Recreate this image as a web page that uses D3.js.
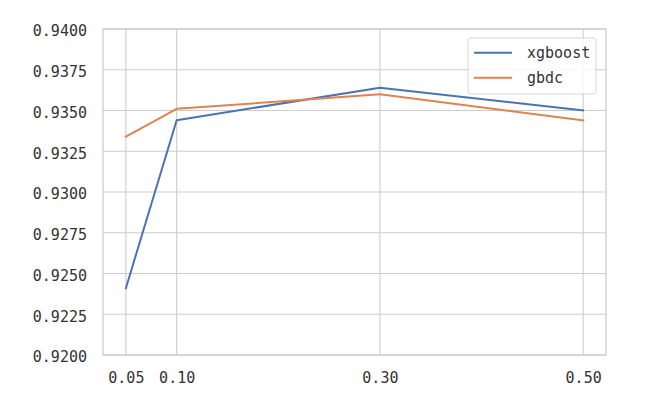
<!DOCTYPE html>
<html><head><meta charset="utf-8">
<script src="https://cdn.jsdelivr.net/npm/d3@7"></script>
<style>html,body{margin:0;padding:0;background:#fff;}</style>
</head><body>
<svg id="c" width="652" height="401"></svg>
<script>
const xValues = [0.05, 0.10, 0.30, 0.50];
const xgboost = [0.9241, 0.9344, 0.9364, 0.9350];
const gbdc = [0.9334, 0.9351, 0.9360, 0.9344];
const seriesNames = ["xgboost", "gbdc"];
const yTicks = [0.9200, 0.9225, 0.9250, 0.9275, 0.9300, 0.9325, 0.9350, 0.9375, 0.9400];
const xTickLabels = ["0.05", "0.10", "0.30", "0.50"];

const svg = d3.select("#c");
const L = 103, R = 606, T = 29, B = 355;
const x = d3.scaleLinear().domain([0.0275, 0.5225]).range([L, R]);
const y = d3.scaleLinear().domain([0.92, 0.94]).range([B, T]);
const font = "'DejaVu Sans Mono', monospace";
const fs = 15;
const grid = "#cccccc";
const txt = "#333333";

// grid
svg.append("g").selectAll("line").data(yTicks).join("line")
  .attr("x1", L).attr("x2", R).attr("y1", d => y(d)).attr("y2", d => y(d))
  .attr("stroke", grid).attr("stroke-width", 1.1);
svg.append("g").selectAll("line").data(xValues).join("line")
  .attr("y1", T).attr("y2", B).attr("x1", d => x(d)).attr("x2", d => x(d))
  .attr("stroke", grid).attr("stroke-width", 1.1);
// spines
svg.append("rect").attr("x", L).attr("y", T).attr("width", R - L).attr("height", B - T)
  .attr("fill", "none").attr("stroke", grid).attr("stroke-width", 1.3);

// axes labels
const yAxis = d3.axisLeft(y).tickValues(yTicks).tickFormat(d3.format(".4f")).tickSize(0).tickPadding(16);
const gy = svg.append("g").attr("transform", `translate(${L},0)`).call(yAxis);
gy.select(".domain").remove();
gy.selectAll("text").attr("font-family", font).attr("font-size", fs).attr("fill", txt).attr("dy", "0.45em");

const xAxis = d3.axisBottom(x).tickValues(xValues).tickFormat((d, i) => xTickLabels[i]).tickSize(0).tickPadding(17);
const gx = svg.append("g").attr("transform", `translate(0,${B})`).call(xAxis);
gx.select(".domain").remove();
gx.selectAll("text").attr("font-family", font).attr("font-size", fs).attr("fill", txt);

const colors = ["#4c72b0", "#dd8452"];
const line = d3.line().x((d, i) => x(xValues[i])).y(d => y(d));
[xgboost, gbdc].forEach((s, k) => {
  svg.append("path").datum(s).attr("d", line).attr("fill", "none")
    .attr("stroke", colors[k]).attr("stroke-width", 2).attr("stroke-linejoin", "round").attr("stroke-linecap", "square");
});

// legend
const lg = svg.append("g");
lg.append("rect").attr("x", 468).attr("y", 38).attr("width", 128).attr("height", 56).attr("rx", 3)
  .attr("fill", "#fff").attr("fill-opacity", 0.8).attr("stroke", "#d6d6d6").attr("stroke-width", 1);
seriesNames.forEach((n, k) => {
  const yy = 52.7 + k * 25;
  lg.append("line").attr("x1", 474).attr("x2", 512).attr("y1", yy).attr("y2", yy)
    .attr("stroke", colors[k]).attr("stroke-width", 2);
  lg.append("text").attr("x", 527).attr("y", yy).attr("dy", "0.35em")
    .attr("font-family", font).attr("font-size", fs).attr("fill", txt).text(n);
});
</script>
</body></html>
